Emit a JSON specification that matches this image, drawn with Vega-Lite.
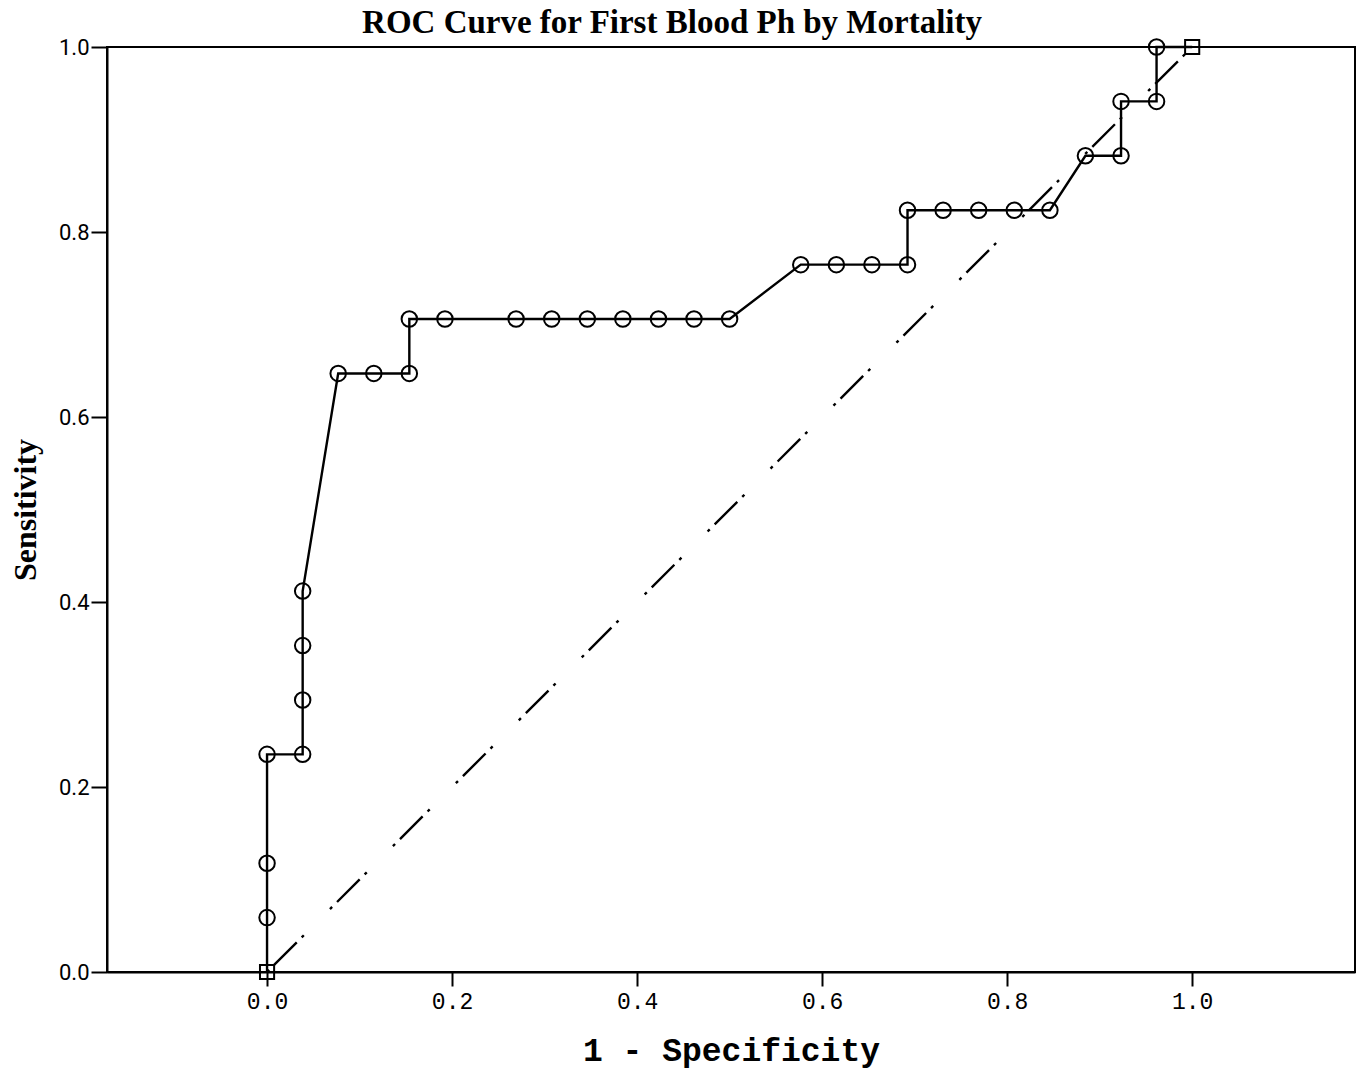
{
  "$schema": "https://vega.github.io/schema/vega-lite/v6.json",
  "autosize": {"type": "none"},
  "padding": {"left": 107, "top": 47, "right": 8, "bottom": 100},
  "width": 1248,
  "height": 925,
  "background": "white",
  "title": {"text": "ROC Curve for First Blood Ph by Mortality", "font": "Liberation Serif", "fontSize": 33, "fontWeight": "bold", "color": "black", "anchor": "middle", "dx": -59, "offset": -5},
  "config": {
    "view": {"stroke": "black", "strokeWidth": 2},
    "axis": {"grid": false, "domainColor": "black", "domainWidth": 2, "tickColor": "black", "tickWidth": 2, "labelColor": "black", "titleColor": "black"}
  },
  "datasets": {
    "roc": [
      {"step": 1, "fpr": 0, "tpr": 0, "kind": "end"},
      {"step": 2, "fpr": 0, "tpr": 0.0588, "kind": "mid"},
      {"step": 3, "fpr": 0, "tpr": 0.1176, "kind": "mid"},
      {"step": 4, "fpr": 0, "tpr": 0.2353, "kind": "mid"},
      {"step": 5, "fpr": 0.0385, "tpr": 0.2353, "kind": "mid"},
      {"step": 6, "fpr": 0.0385, "tpr": 0.2941, "kind": "mid"},
      {"step": 7, "fpr": 0.0385, "tpr": 0.3529, "kind": "mid"},
      {"step": 8, "fpr": 0.0385, "tpr": 0.4118, "kind": "mid"},
      {"step": 9, "fpr": 0.0769, "tpr": 0.6471, "kind": "mid"},
      {"step": 10, "fpr": 0.1154, "tpr": 0.6471, "kind": "mid"},
      {"step": 11, "fpr": 0.1538, "tpr": 0.6471, "kind": "mid"},
      {"step": 12, "fpr": 0.1538, "tpr": 0.7059, "kind": "mid"},
      {"step": 13, "fpr": 0.1923, "tpr": 0.7059, "kind": "mid"},
      {"step": 14, "fpr": 0.2692, "tpr": 0.7059, "kind": "mid"},
      {"step": 15, "fpr": 0.3077, "tpr": 0.7059, "kind": "mid"},
      {"step": 16, "fpr": 0.3462, "tpr": 0.7059, "kind": "mid"},
      {"step": 17, "fpr": 0.3846, "tpr": 0.7059, "kind": "mid"},
      {"step": 18, "fpr": 0.4231, "tpr": 0.7059, "kind": "mid"},
      {"step": 19, "fpr": 0.4615, "tpr": 0.7059, "kind": "mid"},
      {"step": 20, "fpr": 0.5, "tpr": 0.7059, "kind": "mid"},
      {"step": 21, "fpr": 0.5769, "tpr": 0.7647, "kind": "mid"},
      {"step": 22, "fpr": 0.6154, "tpr": 0.7647, "kind": "mid"},
      {"step": 23, "fpr": 0.6538, "tpr": 0.7647, "kind": "mid"},
      {"step": 24, "fpr": 0.6923, "tpr": 0.7647, "kind": "mid"},
      {"step": 25, "fpr": 0.6923, "tpr": 0.8235, "kind": "mid"},
      {"step": 26, "fpr": 0.7308, "tpr": 0.8235, "kind": "mid"},
      {"step": 27, "fpr": 0.7692, "tpr": 0.8235, "kind": "mid"},
      {"step": 28, "fpr": 0.8077, "tpr": 0.8235, "kind": "mid"},
      {"step": 29, "fpr": 0.8462, "tpr": 0.8235, "kind": "mid"},
      {"step": 30, "fpr": 0.8846, "tpr": 0.8824, "kind": "mid"},
      {"step": 31, "fpr": 0.9231, "tpr": 0.8824, "kind": "mid"},
      {"step": 32, "fpr": 0.9231, "tpr": 0.9412, "kind": "mid"},
      {"step": 33, "fpr": 0.9615, "tpr": 0.9412, "kind": "mid"},
      {"step": 34, "fpr": 0.9615, "tpr": 1, "kind": "mid"},
      {"step": 35, "fpr": 1, "tpr": 1, "kind": "end"}
    ],
    "ref": [
      {"fpr": 0, "tpr": 0},
      {"fpr": 1, "tpr": 1}
    ]
  },
  "encoding": {
    "x": {
      "field": "fpr", "type": "quantitative",
      "scale": {"domain": [-0.173, 1.176], "nice": false, "zero": false},
      "axis": {"values": [0, 0.2, 0.4, 0.6, 0.8, 1.0], "format": ".1f", "title": "1 - Specificity",
        "labelFont": "Liberation Mono", "labelFontSize": 23, "labelPadding": 4, "tickSize": 14,
        "titleFont": "Liberation Mono", "titleFontSize": 33, "titleFontWeight": "bold", "titlePadding": 21}
    },
    "y": {
      "field": "tpr", "type": "quantitative",
      "scale": {"domain": [0, 1], "nice": false},
      "axis": {"values": [0, 0.2, 0.4, 0.6, 0.8, 1.0], "format": ".1f", "title": "Sensitivity",
        "labelFont": "Roboto", "labelFontSize": 22, "labelPadding": 2, "tickSize": 16,
        "titleFont": "Liberation Serif", "titleFontSize": 32, "titleFontWeight": "bold", "titlePadding": 16}
    }
  },
  "layer": [
    {
      "data": {"name": "ref"},
      "mark": {"type": "line", "color": "black", "strokeWidth": 2.4, "strokeDash": [3, 7, 32, 7, 3, 37]},
      "encoding": {}
    },
    {
      "data": {"name": "roc"},
      "mark": {"type": "line", "color": "black", "strokeWidth": 2.4},
      "encoding": {"order": {"field": "step", "type": "quantitative"}}
    },
    {
      "data": {"name": "roc"},
      "mark": {"type": "point", "filled": false, "color": "black", "strokeWidth": 2, "opacity": 1},
      "encoding": {
        "shape": {"field": "kind", "type": "nominal", "scale": {"domain": ["mid", "end"], "range": ["circle", "square"]}, "legend": null},
        "size": {"field": "kind", "type": "nominal", "scale": {"domain": ["mid", "end"], "range": [240, 200]}, "legend": null}
      }
    }
  ]
}
